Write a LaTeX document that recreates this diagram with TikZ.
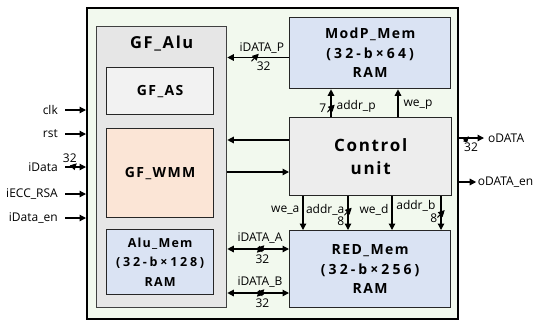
\documentclass[tikz,border=0pt]{standalone}
\usepackage{fontspec}
\setmainfont{Open Sans}
\newfontfamily\boxfont{Open Sans}[LetterSpace=10]
\newfontfamily\sizefont{Open Sans}[LetterSpace=22]
\usetikzlibrary{positioning,arrows.meta,calc}

\definecolor{topbg}{HTML}{F2F9EE}
\definecolor{alubg}{HTML}{E6E6E6}
\definecolor{asbg}{HTML}{F2F2F2}
\definecolor{wmmbg}{HTML}{FBE5D6}
\definecolor{membg}{HTML}{DAE3F3}
\definecolor{ctrlbg}{HTML}{EDEDED}

\begin{document}
\begin{tikzpicture}[
    x=1pt, y=-1pt, font=\fontsize{12}{14}\selectfont, >={Triangle[length=6.5pt,width=6.5pt]},
    blk/.style={draw=black!85, line width=1.3pt, anchor=north west, align=center, inner sep=0pt,
      font=\boxfont\bfseries\fontsize{14}{19.5}\selectfont},
    lbl/.style={inner sep=1pt},
    sig/.style={line width=1.3pt},
    bus/.style={inner sep=0pt, minimum size=7.5pt,
      path picture={\draw[line width=1pt] (path picture bounding box.south west) -- (path picture bounding box.north east);}}]
  \useasboundingbox (0,0) rectangle (534,322);
  % outer frame and the GF_Alu group
  \node[draw, line width=2pt, fill=topbg, anchor=north west, minimum width=371pt, minimum height=311pt] (top) at (86,7) {};
  \node[draw=black!75, line width=1.3pt, fill=alubg, anchor=north west, minimum width=130pt, minimum height=281pt] (alu) at (96,26) {};
  \node[below=6pt of alu.north, font=\boxfont\bfseries\fontsize{16.5}{19}\selectfont] (alut) {GF\_Alu};
  \node[blk, fill=asbg, minimum width=107pt, minimum height=47pt] (as) at (106,67) {GF\_AS};
  \node[blk, fill=wmmbg, minimum width=107pt, minimum height=89pt] (wmm) at (106,128) {GF\_WMM};
  \node[blk, fill=membg, minimum width=107pt, minimum height=65pt,
    font=\boxfont\bfseries\fontsize{12.5}{19.5}\selectfont] (alumem) at (106,229) {Alu\_Mem\\{\sizefont (32-b×128)}\\RAM};
  % memories and control
  \node[blk, fill=membg, minimum width=161pt, minimum height=71pt] (modp) at (289,17) {ModP\_Mem\\{\sizefont (32-b×64)}\\RAM};
  \node[blk, fill=ctrlbg, minimum width=162pt, minimum height=78pt,
    font=\boxfont\bfseries\fontsize{17}{23}\selectfont] (ctrl) at (289,117) {Control\\unit};
  \node[blk, fill=membg, minimum width=161pt, minimum height=77pt] (red) at (289,230) {RED\_Mem\\{\sizefont (32-b×256)}\\RAM};

  \coordinate (yP) at (0,57.5);
  \coordinate (yC) at (0,140);
  \coordinate (yW) at (0,172);
  \coordinate (yA) at (0,249);
  \coordinate (yB) at (0,293);
  \coordinate (xap) at (331,0);
  \coordinate (xwp) at (398,0);
  \coordinate (xwa) at (303,0);
  \coordinate (xaa) at (348,0);
  \coordinate (xwd) at (392,0);
  \coordinate (xab) at (441,0);

  % horizontal buses
  \draw[sig,->] (modp.west |- yP) -- node[pos=.55, bus] {} node[pos=.44, lbl, above=3pt] {iDATA\_P}
    node[pos=.41, lbl, below=3pt] {32} (alu.east |- yP);
  \draw[sig,->] (ctrl.west |- yC) -- (alu.east |- yC);
  \draw[sig,->] (alu.east |- yW) -- (ctrl.west |- yW);
  \draw[sig,<->] (alu.east |- yA) -- node[pos=.54, bus] {} node[pos=.53, lbl, above=4pt] {iDATA\_A}
    node[pos=.57, lbl, below=4pt] {32} (red.west |- yA);
  \draw[sig,<->] (alu.east |- yB) -- node[pos=.54, bus] {} node[pos=.53, lbl, above=4pt] {iDATA\_B}
    node[pos=.57, lbl, below=4pt] {32} (red.west |- yB);

  % control to memories
  \draw[sig,->] (ctrl.north -| xap) -- node[pos=.31, bus] {} node[pos=.31, lbl, left=3pt] {7}
    node[pos=.38, lbl, right=4pt] {addr\_p} (modp.south -| xap);
  \draw[sig,->] (ctrl.north -| xwp) -- node[pos=.45, lbl, right=4pt] {we\_p} (modp.south -| xwp);
  \draw[sig,->] (ctrl.south -| xwa) -- node[pos=.4, lbl, left=2pt] {we\_a} (red.north -| xwa);
  \draw[sig,->] (ctrl.south -| xaa) -- node[pos=.45, bus] {} node[pos=.4, lbl, left=2pt] {addr\_a}
    node[pos=.75, lbl, left=2pt] {8} (red.north -| xaa);
  \draw[sig,->] (ctrl.south -| xwd) -- node[pos=.4, lbl, left=2pt] {we\_d} (red.north -| xwd);
  \draw[sig,->] (ctrl.south -| xab) -- node[pos=.52, bus] {} node[pos=.28, lbl, left=4pt] {addr\_b}
    node[pos=.66, lbl, left=2pt] {8} (red.north -| xab);

  % inputs
  \node[lbl, anchor=east] (clk) at (59,110) {clk};
  \node[lbl, anchor=east] (rst) at (59,134) {rst};
  \node[lbl, anchor=east] (idata) at (59,167) {iData};
  \node[lbl, anchor=east] (iecc) at (59,194) {iECC\_RSA};
  \node[lbl, anchor=east] (iden) at (59,218) {iData\_en};
  \draw[sig,->,shorten <=6pt] (clk) -- (clk -| top.west);
  \draw[sig,->,shorten <=6pt] (rst) -- (rst -| top.west);
  \draw[sig,->,shorten <=6pt] (idata) -- node[pos=.52, bus] {} node[pos=.4, lbl, above=3pt] {32} (idata -| top.west);
  \draw[sig,->,shorten <=6pt] (iecc) -- (iecc -| top.west);
  \draw[sig,->,shorten <=6pt] (iden) -- (iden -| top.west);

  % outputs
  \node[lbl, anchor=west] (odata) at (487,138) {oDATA};
  \node[lbl, anchor=east, inner sep=0pt] (odataen) at (533.5,182) {oDATA\_en};
  \draw[sig,->,shorten >=3pt] (odata -| top.east) -- node[pos=.3, bus] {} node[pos=.43, lbl, below=3pt] {32} (odata);
  \draw[sig,->,shorten >=1.5pt] (odataen -| top.east) -- (odataen);
\end{tikzpicture}
\end{document}
